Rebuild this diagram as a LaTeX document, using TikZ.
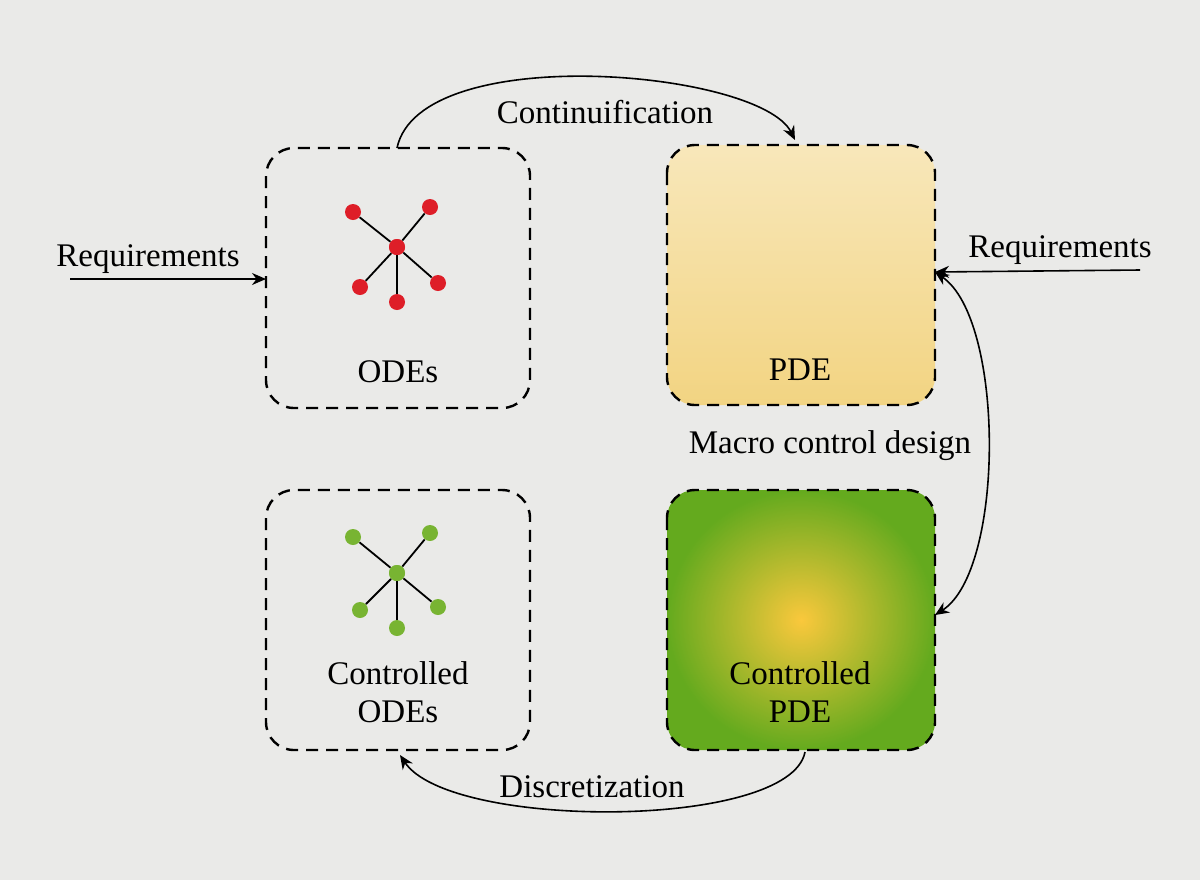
\documentclass[tikz,border=0pt]{standalone}
\usepackage{fontspec}
\setmainfont{Liberation Serif}
\usetikzlibrary{arrows.meta}
\definecolor{bg}{RGB}{234,234,232}
\definecolor{odered}{RGB}{222,30,40}
\definecolor{odegreen}{RGB}{120,180,50}
\definecolor{pdeyellow}{RGB}{242,212,130}
\definecolor{pdegreen}{RGB}{100,170,30}
\definecolor{pdecore}{RGB}{250,200,60}
\tikzset{
  box/.style={draw, dashed, line width=1.2pt, rounded corners=14pt, dash pattern=on 6pt off 4pt},
  lbl/.style={inner sep=1pt, font=\fontsize{16.5}{19}\selectfont, align=center},
  dot/.style={circle, inner sep=0pt, minimum size=8pt},
  link/.style={line width=0.8pt, -{Stealth[length=7pt,width=6pt]}}
}
\begin{document}
\begin{tikzpicture}[x=0.5pt,y=0.5pt,yscale=-1]
		% background
		\fill[bg] (0,0) rectangle (1200,880);
		\useasboundingbox (0,0) rectangle (1200,880);

		% the four boxes
		\draw[box, shading=axis, shading angle=135, top color=pdeyellow!55!white, bottom color=pdeyellow] (667,145) rectangle (935,405);
		\draw[box] (266,148) rectangle (530,408);
		\draw[box] (266,490) rectangle (530,750);
		\draw[box, shading=radial, inner color=pdecore, outer color=pdegreen] (667,490) rectangle (935,750);

		% box texts
		\node[lbl] (odes) at (398,372) {ODEs};
		\node[lbl] (pde) at (800,370) {PDE};
		\node[lbl] (codes) at (398,692) {Controlled\\ODEs};
		\node[lbl] (cpde) at (800,692) {Controlled\\PDE};

		% anchors on the boxes
		\coordinate (odetop) at (397,148);
		\coordinate (pdetop) at (795,140);
		\coordinate (odeleft) at (266,279);
		\coordinate (pderight) at (935,272);
		\coordinate (cpderight) at (935,615);
		\coordinate (cpdebot) at (805,752);
		\coordinate (codebot) at (400,755);
		\coordinate (reqa) at (70,279);
		\coordinate (reqb) at (1140,270);

		% red star
		\node[dot, fill=odered] (rc) at (397,247) {};
		\foreach \n/\p in {r1/{(353,212)}, r2/{(430,207)}, r3/{(360,287)}, r4/{(397,302)}, r5/{(438,283)}}
		{
			\node[dot, fill=odered] (\n) at \p {};
			\draw[line width=0.9pt] (rc) -- (\n);
		}
		\node[dot, fill=odered] at (rc) {};

		% green star
		\node[dot, fill=odegreen] (gc) at (397,573) {};
		\foreach \n/\p in {g1/{(353,537)}, g2/{(430,533)}, g3/{(360,610)}, g4/{(397,628)}, g5/{(438,607)}}
		{
			\node[dot, fill=odegreen] (\n) at \p {};
			\draw[line width=0.9pt] (gc) -- (\n);
		}
		\node[dot, fill=odegreen] at (gc) {};

		% connectors
		\draw[link] (odetop) .. controls (420,40) and (760,70) .. (pdetop);
		\draw[link] (reqa) -- (odeleft);
		\draw[link] (reqb) -- (pderight);
		\draw[link, {Stealth[length=7pt,width=6pt]}-{Stealth[length=7pt,width=6pt]}] (pderight) .. controls (1005,320) and (1005,570) .. (cpderight);
		\draw[link] (cpdebot) .. controls (790,830) and (450,830) .. (codebot);

		% connector labels
		\node[lbl] (cont) at (605,112) {Continuification};
		\node[lbl] (reql) at (148,259) {Requirements};
		\node[lbl] (reqr) at (1060,250) {Requirements};
		\node[lbl] (macro) at (830,446) {Macro control design};
		\node[lbl] (disc) at (592,787) {Discretization};
	\end{tikzpicture}
\end{document}
